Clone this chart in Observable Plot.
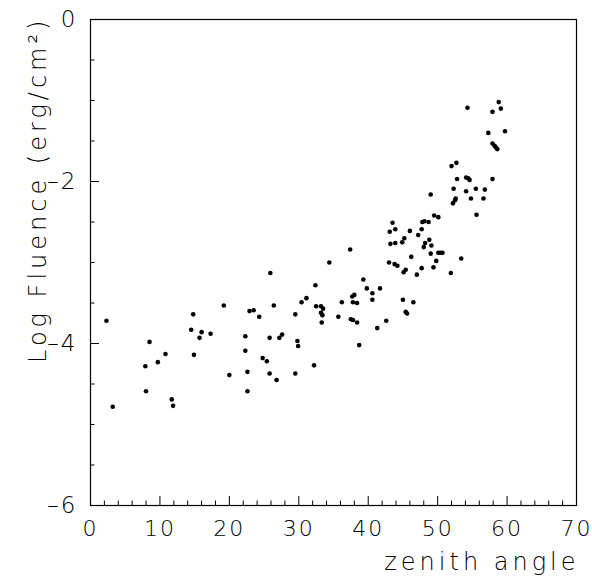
<!DOCTYPE html>
<html>
<head>
<meta charset="utf-8">
<script src="https://cdn.jsdelivr.net/npm/d3@7"></script>
<script src="https://cdn.jsdelivr.net/npm/@observablehq/plot@0.6"></script>
<style>
  html, body { margin: 0; padding: 0; background: #fff; }
  svg { display: block; }
  svg text { letter-spacing: 2px; }
</style>
</head>
<body>
<div id="chart"></div>
<script>
// Data
const zenith = [
  2.3, 3.2, 7.9, 8.5, 8.0, 9.7, 10.8, 11.7, 11.9, 14.8,
  14.5, 14.9, 16.0, 15.7, 17.3, 19.2, 20.0, 22.3, 22.3, 22.6,
  22.6, 22.9, 23.5, 24.3, 24.8, 25.4, 25.8, 25.8, 25.9, 26.4,
  26.8, 27.2, 27.6, 29.8, 29.9, 29.5, 30.4, 31.1, 32.4, 32.5,
  33.2, 33.5, 33.2, 33.4, 33.3, 34.4, 35.7, 36.2, 37.4, 37.5,
  37.7, 38.0, 37.8, 38.4, 37.8, 38.4, 38.7, 39.3, 39.8, 40.6,
  40.6, 41.3, 41.7, 42.6, 43.0, 43.2, 43.1, 43.5, 43.9, 43.9,
  43.8, 44.2, 44.9, 45.2, 45.0, 45.1, 45.4, 45.4, 45.6, 46.0,
  46.2, 46.5, 47.0, 47.2, 47.7, 47.7, 47.8, 48.1, 48.7, 48.0,
  48.2, 48.8, 49.1, 49.0, 49.4, 49.8, 50.1, 49.5, 50.1, 50.4,
  50.7, 54.3, 58.8, 57.9, 59.1, 57.3, 59.7, 57.9, 58.2, 58.4,
  58.6, 52.7, 52.0, 52.8, 54.1, 54.4, 54.6, 57.9, 52.3, 54.1,
  55.5, 56.8, 52.6, 52.5, 54.8, 56.6, 52.2, 49.0, 55.6, 53.4,
  51.9, 32.2, 29.5
];
const logFluence = [
  -3.72, -4.78, -4.28, -3.98, -4.59, -4.23, -4.13, -4.69, -4.77, -3.64,
  -3.83, -4.14, -3.86, -3.93, -3.88, -3.53, -4.39, -3.91, -4.09, -4.35,
  -4.59, -3.60, -3.59, -3.67, -4.18, -4.22, -4.37, -3.93, -3.13, -3.53,
  -4.45, -3.93, -3.89, -3.97, -4.03, -3.64, -3.49, -3.44, -3.28, -3.54,
  -3.54, -3.57, -3.62, -3.65, -3.74, -3.00, -3.67, -3.49, -2.84, -3.70,
  -3.42, -3.40, -3.49, -3.50, -3.71, -3.74, -4.02, -3.21, -3.32, -3.38,
  -3.46, -3.81, -3.32, -3.72, -3.00, -2.77, -2.62, -2.51, -2.59, -2.76,
  -3.02, -3.04, -2.75, -2.70, -3.46, -3.12, -3.09, -3.61, -3.63, -2.61,
  -2.93, -3.49, -3.15, -2.66, -3.07, -2.59, -2.50, -2.49, -2.50, -2.81,
  -2.76, -2.72, -2.79, -2.89, -3.06, -2.98, -2.88, -2.42, -2.44, -2.88,
  -2.88, -1.09, -1.02, -1.14, -1.10, -1.40, -1.38, -1.53, -1.56, -1.58,
  -1.60, -1.77, -1.81, -1.97, -1.95, -1.96, -1.98, -1.97, -2.09, -2.12,
  -2.09, -2.10, -2.21, -2.23, -2.21, -2.21, -2.27, -2.16, -2.41, -2.95,
  -3.13, -4.27, -4.37
];

const xMajorTicks = [0, 10, 20, 30, 40, 50, 60, 70];
const xMinorTicks = [2, 4, 6, 8, 12, 14, 16, 18, 22, 24, 26, 28, 32, 34, 36, 38,
                     42, 44, 46, 48, 52, 54, 56, 58, 62, 64, 66, 68];
const yMajorTicks = [0, -2, -4, -6];
const yMinorTicks = [-0.5, -1, -1.5, -2.5, -3, -3.5, -4.5, -5, -5.5];
const xTitle = "zenith angle";
const yTitle = "Log Fluence (erg/cm²)";

const points = zenith.map((z, i) => ({z, f: logFluence[i]}));

const W = 592, H = 580;
const mL = 90, mR = 16, mT = 19, mB = 75;
const fw = W - mL - mR, fh = H - mT - mB;
const font = "'DejaVu Sans', 'Open Sans', sans-serif";

const chart = Plot.plot({
  width: W,
  height: H,
  marginLeft: mL,
  marginRight: mR,
  marginTop: mT,
  marginBottom: mB,
  x: {domain: [0, 70]},
  y: {domain: [-6, 0]},
  style: {fontFamily: font, fontSize: "22px", fontWeight: 200, color: "#000", background: "#fff"},
  marks: [
    Plot.frame({stroke: "#000", strokeWidth: 1.2}),
    Plot.axisX(xMajorTicks, {tickSize: 0, tickPadding: 15, label: null, fontWeight: 200, fontSize: 22}),
    Plot.axisY(yMajorTicks, {tickSize: 0, tickPadding: 13, label: null, fontWeight: 200, fontSize: 23,
      tickFormat: d => d < 0 ? "\u2013" + Math.abs(d) : String(d)}),
    Plot.ruleX(xMajorTicks, {x: d => d, insetTop: fh - 9, stroke: "#000"}),
    Plot.ruleX(xMinorTicks, {x: d => d, insetTop: fh - 4.5, stroke: "#000"}),
    Plot.ruleY(yMajorTicks, {y: d => d, insetRight: fw - 9, stroke: "#000"}),
    Plot.ruleY(yMinorTicks, {y: d => d, insetRight: fw - 4.5, stroke: "#000"}),
    Plot.dot(points, {x: "z", y: "f", r: 2.3, fill: "#000", stroke: null}),
    Plot.text([xTitle], {frameAnchor: "bottom-right", textAnchor: "end", dy: 64, dx: 3, fontWeight: 200, fontSize: 24, className: "xtitle"}),
    Plot.text([yTitle], {frameAnchor: "top-left", textAnchor: "end", rotate: -90, dx: -62, dy: -3, fontWeight: 200, fontSize: 24, className: "ytitle"})
  ]
});

// wider letter-spacing for the two axis titles
chart.querySelectorAll("g.xtitle text, g.ytitle text, text.xtitle, text.ytitle").forEach(t => t.style.letterSpacing = "4px");
chart.querySelectorAll(".xtitle, .ytitle").forEach(g => g.style.letterSpacing = "4px");
document.getElementById("chart").appendChild(chart);
</script>
</body>
</html>
